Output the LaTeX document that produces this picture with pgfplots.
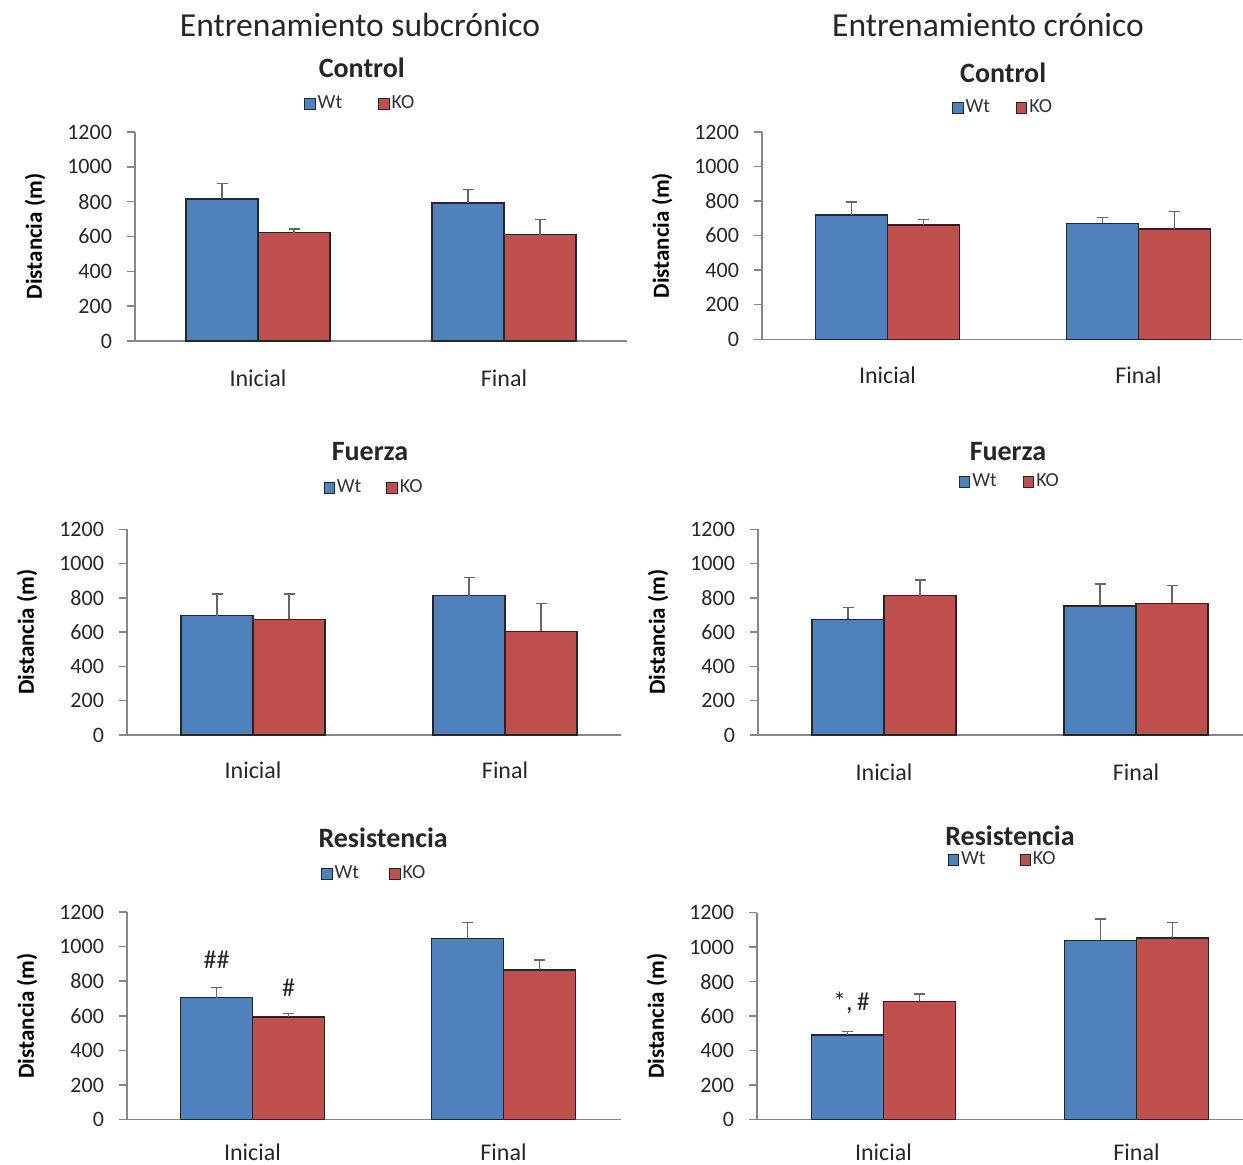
\documentclass[border=0pt]{standalone}
\usepackage{fontspec}
\setmainfont{Carlito}
\usepackage{pgfplots}
\pgfplotsset{compat=1.18}
\definecolor{wtblue}{HTML}{4F81BD}
\definecolor{kored}{HTML}{C0504D}
\definecolor{axgray}{HTML}{868686}
\pgfplotsset{
  panel/.style={
    scale only axis, clip=false,
    ymin=0, ymax=1200, ytick={0,200,...,1200},
    xtick={0,1}, xticklabels={Inicial,Final}, xmin=-0.5,
    axis x line*=bottom, axis y line*=left,
    axis line style={draw=axgray, line width=0.75pt},
    tick align=outside, major tick length=4pt,
    ytick style={draw=axgray, line width=0.75pt},
    xtick style={draw=none},
    /pgf/number format/assume math mode=true,
    /pgf/number format/1000 sep={},
    yticklabel style={font=\fontsize{11}{12}\selectfont, text=black!85, xshift=-4pt},
    xticklabel style={font=\fontsize{12}{14}\selectfont, text=black!85, anchor=center},
    ylabel={Distancia (m)},
    ylabel style={font=\bfseries\fontsize{11.5}{13}\selectfont, at={(axis description cs:0,0.5)}, yshift=50pt, anchor=center},
    every axis title shift=0pt,
    title style={font=\bfseries\fontsize{14}{16}\selectfont, anchor=center, text=black!85},
    ybar, bar width=36pt,
    legend style={draw=none, fill=none, legend columns=2, font=\fontsize{10}{11}\selectfont, anchor=center, inner sep=0pt, nodes={inner sep=1pt}, text=black!80},
    error bars/y dir=plus, error bars/y explicit,
    error bars/error bar style={draw=black!60, line width=0.75pt},
    error bars/error mark options={rotate=90, mark size=2.75pt, draw=black!60, line width=0.75pt},
  },
  wt/.style={fill=wtblue, draw=black!85, line width=0.75pt, bar shift=-18pt,
    legend image code/.code={\draw[fill=wtblue, draw=black!85, line width=0.5pt] (0pt,-2.6pt) rectangle (5.2pt,2.6pt);}},
  ko/.style={fill=kored, draw=black!85, line width=0.75pt, bar shift=18pt,
    legend image code/.code={\draw[fill=kored, draw=black!85, line width=0.5pt] (0pt,-2.6pt) rectangle (5.2pt,2.6pt);}},
}
\begin{document}
\begin{tikzpicture}
\useasboundingbox (0,0) rectangle (621.5pt,-582.5pt);
\node[font=\fontsize{16.8}{18}\selectfont, text=black!85] at (180pt,-12.5pt) {Entrenamiento subcrónico};
\node[font=\fontsize{16.8}{18}\selectfont, text=black!85] at (494pt,-12.5pt) {Entrenamiento crónico};

% TL
\begin{axis}[panel, at={(67.5pt,-170.5pt)}, anchor=south west, width=246pt, height=104.5pt, xmax=1.5,
  xticklabel style={yshift=-14.5pt},
  title={Control}, title style={at={(axis description cs:0.461,1.306)}},
  legend style={at={(axis description cs:0.458,1.134)}, /tikz/every even column/.append style={column sep=17pt}}]
\addplot[wt] coordinates {(0,814) +- (0,90) (1,791) +- (0,80)};
\addplot[ko] coordinates {(0,622) +- (0,21) (1,611) +- (0,88)};
\legend{Wt,KO}
\end{axis}

% TR
\begin{axis}[panel, at={(381pt,-169.65pt)}, anchor=south west, width=240.2pt, height=103.65pt, xmax=1.414,
  xticklabel style={yshift=-14pt},
  title={Control}, title style={at={(axis description cs:0.502,1.285)}},
  legend style={at={(axis description cs:0.502,1.116)}, /tikz/every even column/.append style={column sep=12pt}}]
\addplot[wt] coordinates {(0,719) +- (0,77) (1,671) +- (0,35)};
\addplot[ko] coordinates {(0,661) +- (0,33) (1,638) +- (0,103)};
\legend{Wt,KO}
\end{axis}

% ML
\begin{axis}[panel, at={(63.5pt,-367.5pt)}, anchor=south west, width=247pt, height=102.85pt, xmax=1.46,
  xticklabel style={yshift=-13.5pt},
  title={Fuerza}, title style={at={(axis description cs:0.492,1.376)}},
  legend style={at={(axis description cs:0.5,1.201)}, /tikz/every even column/.append style={column sep=11.5pt}}]
\addplot[wt] coordinates {(0,696) +- (0,128) (1,813) +- (0,105)};
\addplot[ko] coordinates {(0,675) +- (0,149) (1,605) +- (0,163)};
\legend{Wt,KO}
\end{axis}

% MR
\begin{axis}[panel, at={(379pt,-367.5pt)}, anchor=south west, width=243.2pt, height=102.85pt, xmax=1.43,
  xticklabel style={yshift=-14.5pt},
  title={Fuerza}, title style={at={(axis description cs:0.514,1.376)}},
  legend style={at={(axis description cs:0.518,1.230)}, /tikz/every even column/.append style={column sep=12pt}}]
\addplot[wt] coordinates {(0,675) +- (0,70) (1,754) +- (0,127)};
\addplot[ko] coordinates {(0,813) +- (0,91) (1,768) +- (0,103)};
\legend{Wt,KO}
\end{axis}

% BL
\begin{axis}[panel, at={(63.5pt,-559.85pt)}, anchor=south west, width=247.25pt, height=103.85pt, xmax=1.47,
  xticklabel style={yshift=-12.5pt},
  title={Resistencia}, title style={at={(axis description cs:0.518,1.356)}},
  legend style={at={(axis description cs:0.5,1.183)}, /tikz/every even column/.append style={column sep=14pt}}]
\addplot[wt] coordinates {(0,705) +- (0,60) (1,1048) +- (0,90)};
\addplot[ko] coordinates {(0,592) +- (0,23) (1,865) +- (0,58)};
\legend{Wt,KO}
\node[font=\fontsize{13}{14}\selectfont, text=black!85, xshift=-18pt] at (axis cs:0,922) {\#\#};
\node[font=\fontsize{13}{14}\selectfont, text=black!85, xshift=18pt] at (axis cs:0,761) {\#};
\end{axis}

% BR
\begin{axis}[panel, at={(378.5pt,-559.85pt)}, anchor=south west, width=244.15pt, height=103.5pt, xmax=1.43,
  xticklabel style={yshift=-12.5pt},
  title={Resistencia}, title style={at={(axis description cs:0.518,1.370)}},
  legend style={at={(axis description cs:0.503,1.255)}, /tikz/every even column/.append style={column sep=16pt}}]
\addplot[wt] coordinates {(0,491) +- (0,21) (1,1040) +- (0,123)};
\addplot[ko] coordinates {(0,686) +- (0,44) (1,1052) +- (0,90)};
\legend{Wt,KO}
\node[font=\fontsize{13}{14}\selectfont, text=black!85, xshift=-16pt] at (axis cs:0,677) {*,\,\#};
\end{axis}
\end{tikzpicture}
\end{document}
